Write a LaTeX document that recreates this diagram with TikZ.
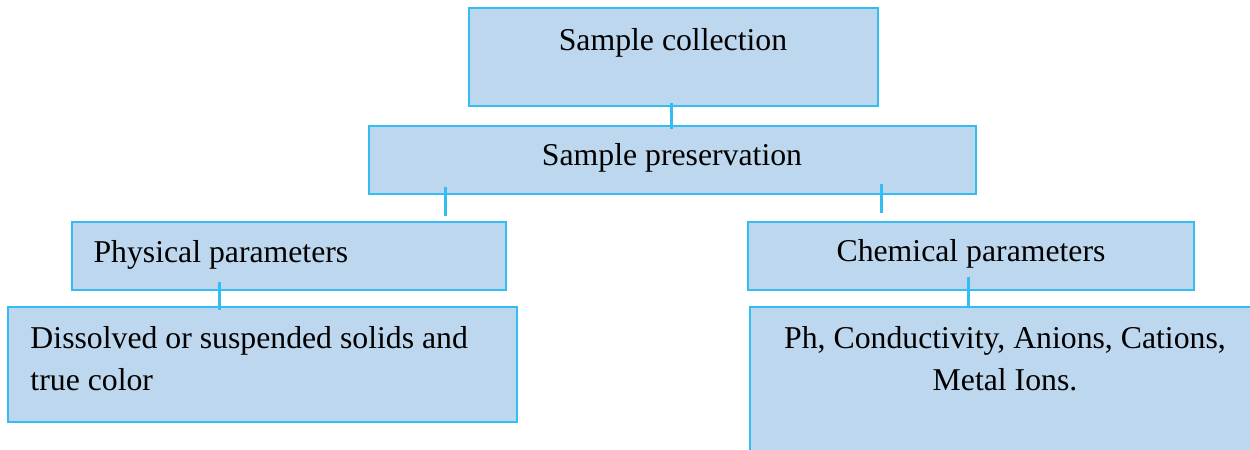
\documentclass[tikz,border=0pt]{standalone}
\usepackage{fontspec}
\setmainfont{Liberation Serif}
\usepackage{xcolor}
\usepackage{tikz}

\definecolor{boxfill}{HTML}{BDD7EE}
\definecolor{boxline}{HTML}{33BDF2}
\newlength\pu
\setlength\pu{0.4pt}

\begin{document}
\begin{tikzpicture}[
                x=\pu,y=-\pu,
                box/.style={rectangle,draw=boxline,fill=boxfill,line width=0.8pt,inner sep=0pt},
                link/.style={draw=boxline,line width=1.2pt},
                txt/.style={inner sep=0pt,font=\fontsize{12.7}{16.8}\selectfont},
            ]

            \clip (0,0) rectangle (1250,449);

            % boxes
            \node[box,minimum width=409\pu,minimum height=98\pu] (collect) at (673.5,57) {};
            \node[box,minimum width=607\pu,minimum height=68\pu] (preserve) at (672.5,160) {};
            \node[box,minimum width=434\pu,minimum height=68\pu] (physical) at (289,256) {};
            \node[box,minimum width=446\pu,minimum height=68\pu] (chemical) at (971,256) {};
            \node[box,minimum width=509\pu,minimum height=115\pu] (physlist) at (262.5,364.5) {};
            \node[box,minimum width=520\pu,minimum height=160\pu] (chemlist) at (1010,387) {};

            % connectors
            \coordinate (p1) at (445,187);
            \coordinate (p2) at (445,216);
            \coordinate (c1) at (881,184);
            \coordinate (c2) at (881,213);
            \coordinate (p3) at (219,282);
            \coordinate (c3) at (968,277);
            \coordinate (c4) at (968,306);

            \draw[link] ([yshift=4\pu]collect.south -| 671,0) -- ([yshift=-4\pu]preserve.north -| 671,0);
            \draw[link] (p1) -- (p2);
            \draw[link] (c1) -- (c2);
            \draw[link] (p3) -- ([yshift=-4\pu]physlist.north -| p3);
            \draw[link] (c3) -- (c4);

            % texts
            \node[txt] (collectText) at (673,43) {Sample collection};
            \node[txt] (preserveText) at (672,158) {Sample preservation};
            \node[txt,anchor=west] (physicalText) at (93,255) {Physical parameters};
            \node[txt] (chemicalText) at (971,254) {Chemical parameters};
            \node[txt,anchor=west,align=left] (physlistText) at (30,359)
                {Dissolved or suspended solids and\\true color};
            \node[txt,align=center] (chemlistText) at (1005,359)
                {Ph, Conductivity, Anions, Cations,\\Metal Ions.};
        \end{tikzpicture}
\end{document}
